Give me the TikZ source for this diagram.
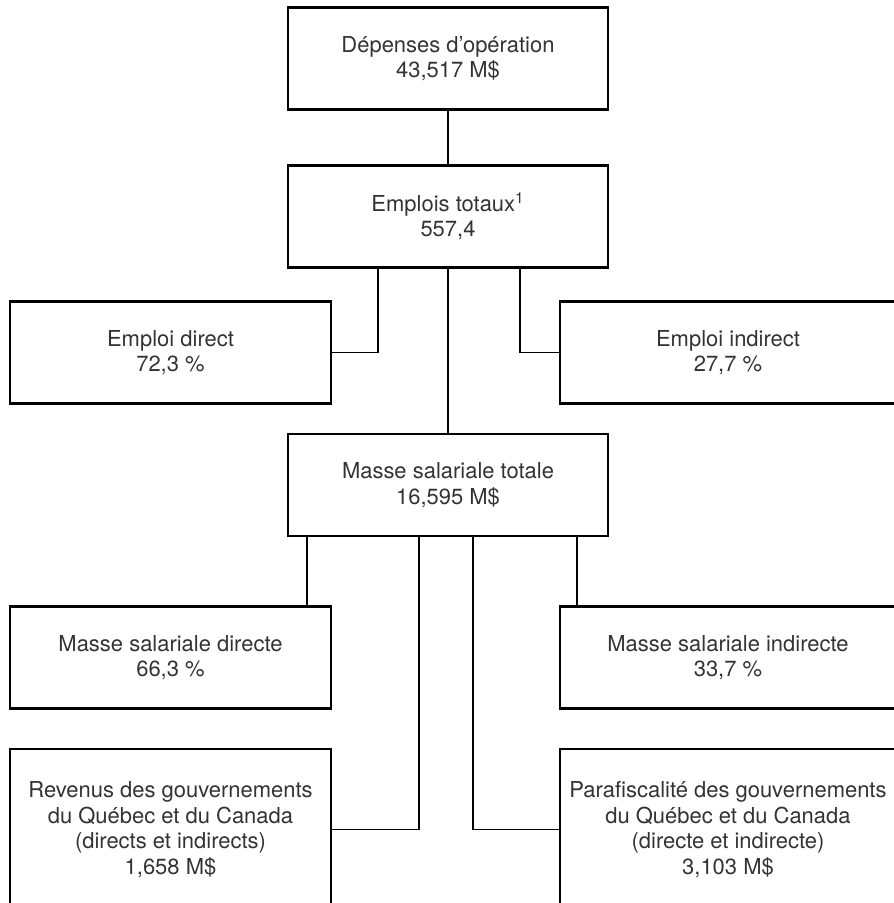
\documentclass[tikz,border=0pt]{standalone}
\usepackage{fontspec}
\setmainfont{TeX Gyre Heros}
\usetikzlibrary{positioning, calc}
\definecolor{boxtext}{RGB}{51, 51, 51}

\begin{document}
\begin{tikzpicture}[
    box/.style={rectangle, draw=black, line width=1.2pt, text=boxtext,
      minimum width=6.4cm, minimum height=2.04cm, align=center, inner sep=0pt,
      font=\fontsize{12.5}{14.5}\selectfont},
    link/.style={line width=0.9pt, black},
  ]
    \useasboundingbox (0,0) rectangle (17.88,-18.06);

    \node[box] (dep) at (8.96,-1.17) {Dépenses d’opération\\43,517 M\$};
    \node[box] (emp) at (8.96,-4.33) {Emplois totaux\textsuperscript{1}\\557,4};
    \node[box, minimum width=6.42cm] (empdir) at (3.41,-7.05) {Emploi direct\\72,3 \%};
    \node[box, minimum width=6.72cm] (empind) at (14.56,-7.05) {Emploi indirect\\27,7 \%};
    \node[box] (mst) at (8.96,-9.70) {Masse salariale totale\\16,595 M\$};
    \node[box, minimum width=6.42cm] (msd) at (3.41,-13.15) {Masse salariale directe\\66,3 \%};
    \node[box, minimum width=6.72cm] (msi) at (14.56,-13.15) {Masse salariale indirecte\\33,7 \%};
    \node[box, minimum width=6.42cm, minimum height=3.22cm] (rev) at (3.41,-16.59)
      {Revenus des gouvernements\\du Québec et du Canada\\(directs et indirects)\\1,658 M\$};
    \node[box, minimum width=6.72cm, minimum height=3.22cm] (para) at (14.56,-16.59)
      {Parafiscalité des gouvernements\\du Québec et du Canada\\(directe et indirecte)\\3,103 M\$};

    \draw[link] (dep) -- (emp);
    \draw[link] ([xshift=-1.4cm]emp.south) |- (empdir);
    \draw[link] ([xshift=1.44cm]emp.south) |- (empind);
    \draw[link] (emp) -- (mst);
    \draw[link] ([xshift=-0.5cm]msd.north east) -- ([xshift=-0.5cm]msd.north east |- mst.south);
    \draw[link] ([xshift=0.36cm]msi.north west) -- ([xshift=0.36cm]msi.north west |- mst.south);
    \draw[link] ([xshift=-0.58cm]mst.south) |- (rev);
    \draw[link] ([xshift=0.5cm]mst.south) |- (para);
  \end{tikzpicture}
\end{document}
